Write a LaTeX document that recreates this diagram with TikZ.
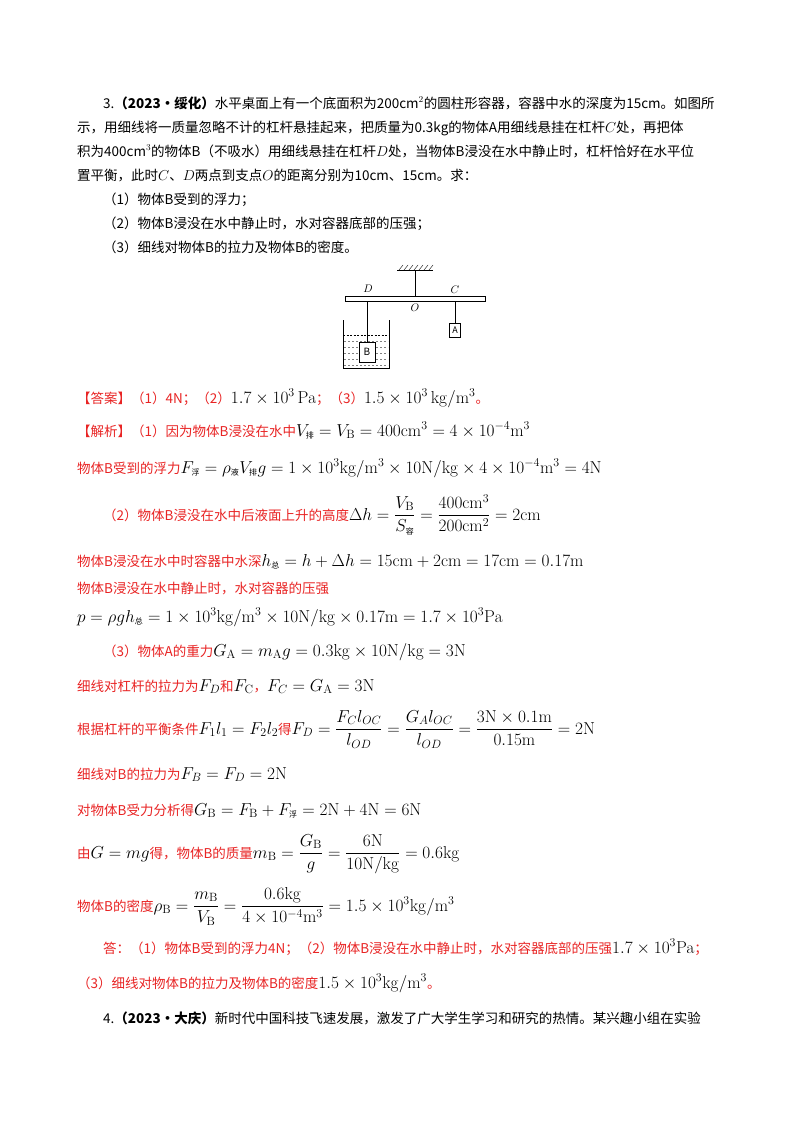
\documentclass[tikz,border=0pt]{standalone}
\usepackage{amsmath}
\usepackage[no-math]{fontspec}
\setmainfont{Noto Sans CJK SC}
\usepackage{tikz}
\definecolor{ansred}{RGB}{232,36,36}
\newcommand{\zh}[1]{\text{\fontsize{8}{9}\selectfont #1}}
\newcommand{\fm}[1]{\textcolor{black}{\fontsize{17}{20}\selectfont$#1$}}
\begin{document}
\begin{tikzpicture}[x=1pt,y=-1pt,
  every node/.style={inner sep=0pt,anchor=base west,font=\fontsize{13.5}{16}\selectfont},
  ans/.style={text=ansred},
  lbl/.style={anchor=center,font=\fontsize{11}{12}\selectfont}]
\useasboundingbox (0,0) rectangle (800,1132);
% question
\node (q1) at (103,108) {3.\textbf{（2023·绥化）}水平桌面上有一个底面积为200cm$^2$的圆柱形容器，容器中水的深度为15cm。如图所};
\node (q2) at (77,132) {示，用细线将一质量忽略不计的杠杆悬挂起来，把质量为0.3kg的物体A用细线悬挂在杠杆$C$处，再把体};
\node (q3) at (77,156) {积为400cm$^3$的物体B（不吸水）用细线悬挂在杠杆$D$处，当物体B浸没在水中静止时，杠杆恰好在水平位};
\node (q4) at (77,180) {置平衡，此时$C$、$D$两点到支点$O$的距离分别为10cm、15cm。求：};
\node (q5) at (103,204) {（1）物体B受到的浮力；};
\node (q6) at (103,228) {（2）物体B浸没在水中静止时，水对容器底部的压强；};
\node (q7) at (103,252) {（3）细线对物体B的拉力及物体B的密度。};
% figure
\draw (397,270) -- (433,270);
\foreach \i in {0,...,6} \draw (399+5*\i,270) -- (403+5*\i,265);
\node[draw,anchor=north west,minimum width=140pt,minimum height=5pt] (beam) at (345,296) {};
\draw (415,270) -- (415,296);
\node[lbl] (O) at (415,308) {$O$};
\node[lbl] (D) at (368,289) {$D$};
\node[lbl] (C) at (455,290) {$C$};
\node[draw,anchor=north,minimum width=11pt,minimum height=14pt,font=\fontsize{9}{10}\selectfont] (A) at (455,323) {A};
\draw (455,301) -- (A.north);
\draw (343,320) -- (343,368) -- (389,368) -- (389,320);
\draw[dash pattern=on 2pt off 1.5pt] (343,335) -- (389,335);
\foreach \yy in {341,347,...,365} \draw[dash pattern=on 2pt off 2pt,gray] (344,\yy) -- (388,\yy);
\node[draw,fill=white,anchor=north,minimum width=16pt,minimum height=20pt,font=\fontsize{10}{10}\selectfont] (B) at (367,342) {B};
\draw (367,301) -- (B.north);
% answer
\node[ans] (a1) at (77,403) {【答案】（1）4N；（2）\fm{1.7\times10^3\,\mathrm{Pa}}；（3）\fm{1.5\times10^3\,\mathrm{kg/m^3}}。};
\node[ans] (a2) at (77,436) {【解析】（1）因为物体B浸没在水中\fm{V_{\zh{排}}=V_{\mathrm B}=400\mathrm{cm^3}=4\times10^{-4}\mathrm{m^3}}};
\node[ans] (a3) at (77,473) {物体B受到的浮力\fm{F_{\zh{浮}}=\rho_{\zh{液}}V_{\zh{排}}g=1\times10^3\mathrm{kg/m^3}\times10\mathrm{N/kg}\times4\times10^{-4}\mathrm{m^3}=4\mathrm{N}}};
\node[ans] (a4) at (103,520) {（2）物体B浸没在水中后液面上升的高度\fm{\Delta h=\dfrac{V_{\mathrm B}}{S_{\zh{容}}}=\dfrac{400\mathrm{cm^3}}{200\mathrm{cm^2}}=2\mathrm{cm}}};
\node[ans] (a5) at (77,566) {物体B浸没在水中时容器中水深\fm{h_{\zh{总}}=h+\Delta h=15\mathrm{cm}+2\mathrm{cm}=17\mathrm{cm}=0.17\mathrm{m}}};
\node[ans] (a6) at (77,593) {物体B浸没在水中静止时，水对容器的压强};
\node (a7) at (77,622) {\fm{p=\rho g h_{\zh{总}}=1\times10^3\mathrm{kg/m^3}\times10\mathrm{N/kg}\times0.17\mathrm{m}=1.7\times10^3\mathrm{Pa}}};
\node[ans] (a8) at (103,656) {（3）物体A的重力\fm{G_{\mathrm A}=m_{\mathrm A}g=0.3\mathrm{kg}\times10\mathrm{N/kg}=3\mathrm{N}}};
\node[ans] (a9) at (77,691) {细线对杠杆的拉力为\fm{F_D}和\fm{F_{\mathrm C}}，\fm{F_C=G_{\mathrm A}=3\mathrm{N}}};
\node[ans] (a10) at (77,734) {根据杠杆的平衡条件\fm{F_1l_1=F_2l_2}得\fm{F_D=\dfrac{F_Cl_{OC}}{l_{OD}}=\dfrac{G_Al_{OC}}{l_{OD}}=\dfrac{3\mathrm{N}\times0.1\mathrm{m}}{0.15\mathrm{m}}=2\mathrm{N}}};
\node[ans] (a11) at (77,779) {细线对B的拉力为\fm{F_B=F_D=2\mathrm{N}}};
\node[ans] (a12) at (77,815) {对物体B受力分析得\fm{G_{\mathrm B}=F_{\mathrm B}+F_{\zh{浮}}=2\mathrm{N}+4\mathrm{N}=6\mathrm{N}}};
\node[ans] (a13) at (77,858) {由\fm{G=mg}得，物体B的质量\fm{m_{\mathrm B}=\dfrac{G_{\mathrm B}}{g}=\dfrac{6\mathrm{N}}{10\mathrm{N/kg}}=0.6\mathrm{kg}}};
\node[ans] (a14) at (77,911) {物体B的密度\fm{\rho_{\mathrm B}=\dfrac{m_{\mathrm B}}{V_{\mathrm B}}=\dfrac{0.6\mathrm{kg}}{4\times10^{-4}\mathrm{m^3}}=1.5\times10^3\mathrm{kg/m^3}}};
\node[ans] (a15) at (103,953) {答：（1）物体B受到的浮力4N；（2）物体B浸没在水中静止时，水对容器底部的压强\fm{1.7\times10^3\mathrm{Pa}}；};
\node[ans] (a16) at (77,988) {（3）细线对物体B的拉力及物体B的密度\fm{1.5\times10^3\mathrm{kg/m^3}}。};
\node (q8) at (103,1023) {4.\textbf{（2023·大庆）}新时代中国科技飞速发展，激发了广大学生学习和研究的热情。某兴趣小组在实验};
\end{tikzpicture}
\end{document}
